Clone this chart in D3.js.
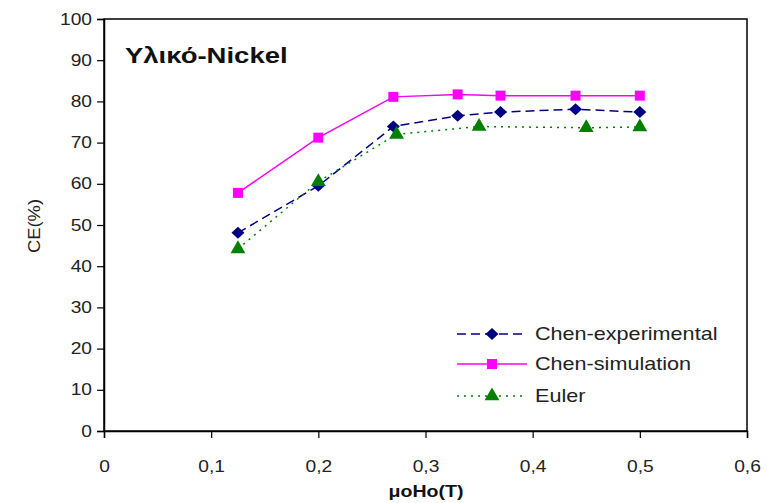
<!DOCTYPE html>
<html><head><meta charset="utf-8">
<script src="https://cdn.jsdelivr.net/npm/d3@7"></script>
<style>body{margin:0;background:#fff}svg{display:block}text{font-family:"Liberation Sans",Arial,sans-serif}</style>
</head><body>
<svg id="c" width="767" height="503"></svg>
<script>
const expX = [0.125, 0.2, 0.27, 0.33, 0.37, 0.44, 0.5];
const expY = [48.1, 59.5, 73.9, 76.5, 77.4, 78.1, 77.4];
const simX = [0.125, 0.2, 0.27, 0.33, 0.37, 0.44, 0.5];
const simY = [57.8, 71.2, 81.1, 81.7, 81.4, 81.4, 81.4];
const eulX = [0.125, 0.2, 0.273, 0.35, 0.45, 0.5];
const eulY = [44.2, 60.5, 72.0, 73.9, 73.6, 73.8];
const xTicks = [0, 0.1, 0.2, 0.3, 0.4, 0.5, 0.6];
const yTicks = [0, 10, 20, 30, 40, 50, 60, 70, 80, 90, 100];
const seriesNames = ["Chen-experimental", "Chen-simulation", "Euler"];

const svg = d3.select("#c");
const L = 104, R = 747, T = 19, B = 431;
const x = d3.scaleLinear().domain([0, 0.6]).range([L, R]);
const y = d3.scaleLinear().domain([0, 100]).range([B, T]);
const SX = 1.2;

svg.append("rect").attr("x", L).attr("y", T).attr("width", R - L).attr("height", B - T)
  .attr("fill", "none").attr("stroke", "#000").attr("stroke-width", 1.5);

const fmt = d => d === 0 ? "0" : d3.format(".1f")(d).replace(".", ",");
const xa = svg.append("g").attr("transform", `translate(0,${B})`)
  .call(d3.axisBottom(x).tickValues(xTicks).tickFormat(fmt).tickSize(7).tickPadding(23));
const ya = svg.append("g").attr("transform", `translate(${L},0)`)
  .call(d3.axisLeft(y).tickValues(yTicks).tickSize(7).tickPadding(3));
[xa, ya].forEach(a => {
  a.select(".domain").attr("stroke", "#000").attr("stroke-width", 1.5);
  a.selectAll(".tick line").attr("stroke", "#000").attr("stroke-width", 1.2);
  a.selectAll("text").attr("font-size", 16).attr("fill", "#222")
    .attr("font-family", "'Liberation Sans', Arial, sans-serif")
    .attr("transform", `scale(${SX},1)`);
});

const diamond = {draw(ctx, size) { const w = 6.5, h = 6; ctx.moveTo(0,-h); ctx.lineTo(w,0); ctx.lineTo(0,h); ctx.lineTo(-w,0); ctx.closePath(); }};
const series = [
  {name: seriesNames[0], xs: expX, ys: expY, color: "#000080", dash: "9,5", shape: diamond, size: 80},
  {name: seriesNames[1], xs: simX, ys: simY, color: "#FF00FF", dash: null, shape: d3.symbolSquare, size: 100},
  {name: seriesNames[2], xs: eulX, ys: eulY, color: "#008000", dash: "2,5", shape: d3.symbolTriangle, size: 95}
];
const line = d3.line().x(d => x(d[0])).y(d => y(d[1]));
series.forEach(s => {
  const pts = s.xs.map((v, i) => [v, s.ys[i]]);
  svg.append("path").datum(pts).attr("d", line).attr("fill", "none")
    .attr("stroke", s.color).attr("stroke-width", 1.5)
    .attr("stroke-dasharray", s.dash);
  svg.selectAll(null).data(pts).enter().append("path")
    .attr("d", d3.symbol().type(s.shape).size(s.size))
    .attr("transform", d => `translate(${x(d[0])},${y(d[1])})`)
    .attr("fill", s.color);
});

const legY = [334, 364, 396];
series.forEach((s, i) => {
  const g = svg.append("g");
  g.append("line").attr("x1", 457).attr("x2", 527).attr("y1", legY[i]).attr("y2", legY[i])
    .attr("stroke", s.color).attr("stroke-width", 1.5).attr("stroke-dasharray", s.dash);
  g.append("path").attr("d", d3.symbol().type(s.shape).size(s.size))
    .attr("transform", `translate(492,${legY[i]})`).attr("fill", s.color);
  g.append("text").attr("transform", `translate(535,${legY[i] + 6}) scale(1.2,1)`)
    .attr("font-size", 18).attr("fill", "#222").text(s.name);
});

svg.append("text").attr("transform", "translate(125,63) scale(1.25,1)").attr("font-size", 22)
  .attr("font-weight", "bold").attr("fill", "#111").text("Υλικό-Nickel");
svg.append("text").attr("transform", "translate(40,226) rotate(-90) scale(1.15,1)")
  .attr("text-anchor", "middle").attr("font-size", 16).attr("fill", "#222").text("CE(%)");
svg.append("text").attr("transform", "translate(426,497) scale(1.15,1)").attr("text-anchor", "middle")
  .attr("font-size", 17).attr("font-weight", "bold").attr("fill", "#111").text("μoHo(T)");
</script>
</body></html>
